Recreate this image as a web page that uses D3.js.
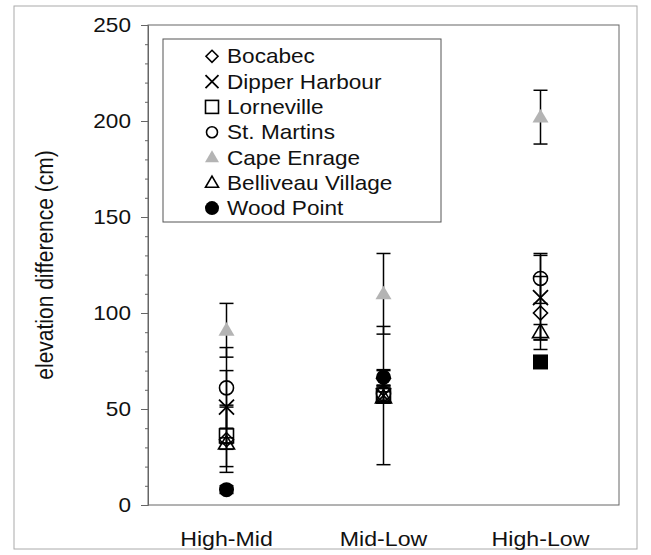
<!DOCTYPE html>
<html>
<head>
<meta charset="utf-8">
<script src="https://cdn.jsdelivr.net/npm/d3@7"></script>
<style>
  body { margin: 0; background: #fff; }
  text { font-family: "Liberation Sans", Arial, sans-serif; fill: #111; }
</style>
</head>
<body>
<div id="chart"></div>
<script>
// categories along the x axis
const categories = ["High-Mid", "Mid-Low", "High-Low"];
const yTicks = [0, 50, 100, 150, 200, 250];

// sites, in legend order
const sites = ["Bocabec", "Dipper Harbour", "Lorneville", "St. Martins", "Cape Enrage", "Belliveau Village", "Wood Point"];
const shapes = ["diamond", "cross", "square", "circle", "triangleGrey", "triangle", "dot"];

// mean elevation difference (cm) per category, and +/- error
const bocabec = [34, 66, 100];
const bocabecErr = [17, 4, 19];
const dipper = [51, 57, 108];
const dipperErr = [19, 36, 22];
const lorneville = [36, 57, null];
const lornevilleErr = [16, 4, null];
const stMartins = [61, 58, 118];
const stMartinsErr = [21, 4, 13];
const capeEnrage = [91, 110, 202];
const capeEnrageErr = [14, 21, 14];
const belliveau = [32, 56, 90];
const belliveauErr = [3, 3, 4];
const woodPoint = [8, 66.5, 74.5];
const woodPointErr = [2, 4, 3];

const means = [bocabec, dipper, lorneville, stMartins, capeEnrage, belliveau, woodPoint];
const errs = [bocabecErr, dipperErr, lornevilleErr, stMartinsErr, capeEnrageErr, belliveauErr, woodPointErr];
// the Wood Point High-Low mark is printed as a filled square in the original
const shapeOverride = { "Wood Point|High-Low": "filledSquare" };

const W = 651, H = 555;
const margin = { top: 25, right: 32, bottom: 50, left: 148 };
const width = W - margin.left - margin.right,
      height = H - margin.top - margin.bottom;
const stretch = 1.13;   // the scanned text is a bit wide

const svg = d3.select("#chart").append("svg")
    .attr("width", W)
    .attr("height", H);

// outer frame of the figure
svg.append("rect")
    .attr("x", 14).attr("y", 6)
    .attr("width", 623).attr("height", 543)
    .attr("fill", "none").attr("stroke", "#aaa").attr("stroke-width", 1);

const g = svg.append("g")
    .attr("transform", "translate(" + margin.left + "," + margin.top + ")");

const x = d3.scalePoint().domain(categories).range([0, width]).padding(0.5);
const y = d3.scaleLinear().domain([0, 250]).range([height, 0]);

// plot box
g.append("rect")
    .attr("width", width).attr("height", height)
    .attr("fill", "none").attr("stroke", "#666").attr("stroke-width", 1);

// y axis, major and minor ticks
const yAxis = g.append("g")
    .call(d3.axisLeft(y).tickValues(d3.range(0, 251, 10)).tickSize(3).tickFormat(""));
yAxis.select(".domain").attr("stroke", "#666");
yAxis.selectAll(".tick line").attr("stroke", "#666")
    .attr("x2", d => d % 50 === 0 ? -7 : -3);

g.selectAll(".ylab")
    .data(yTicks)
    .enter().append("text")
    .attr("class", "ylab")
    .attr("transform", d => "translate(-17," + (y(d) + 7) + ") scale(" + stretch + ",1)")
    .attr("text-anchor", "end")
    .attr("font-size", 20)
    .text(d => d);

// x labels
g.selectAll(".xlab")
    .data(categories)
    .enter().append("text")
    .attr("class", "xlab")
    .attr("transform", d => "translate(" + x(d) + "," + (height + 41) + ") scale(" + stretch + ",1)")
    .attr("text-anchor", "middle")
    .attr("font-size", 20.5)
    .text(d => d);

// y title
svg.append("text")
    .attr("transform", "translate(53," + (margin.top + height / 2) + ") rotate(-90) scale(1,1.1)")
    .attr("text-anchor", "middle")
    .attr("font-size", 21)
    .text("elevation difference (cm)");

// marker drawing
function drawMarker(sel, shape, r) {
  const grey = "#b4b4b4";
  if (shape === "diamond") {
    sel.append("path").attr("d", "M0," + (-r) + "L" + r + ",0L0," + r + "L" + (-r) + ",0Z")
      .attr("fill", "none").attr("stroke", "#000").attr("stroke-width", 1.6);
  } else if (shape === "cross") {
    sel.append("path").attr("d", "M" + (-r) + "," + (-r) + "L" + r + "," + r + "M" + (-r) + "," + r + "L" + r + "," + (-r))
      .attr("stroke", "#000").attr("stroke-width", 1.8);
  } else if (shape === "square") {
    sel.append("rect").attr("x", -r).attr("y", -r).attr("width", 2 * r).attr("height", 2 * r)
      .attr("fill", "none").attr("stroke", "#000").attr("stroke-width", 1.6);
  } else if (shape === "filledSquare") {
    sel.append("rect").attr("x", -r).attr("y", -r).attr("width", 2 * r).attr("height", 2 * r)
      .attr("fill", "#000");
  } else if (shape === "circle") {
    sel.append("circle").attr("r", r)
      .attr("fill", "none").attr("stroke", "#000").attr("stroke-width", 1.6);
  } else if (shape === "dot") {
    sel.append("circle").attr("r", r).attr("fill", "#000");
  } else if (shape === "triangle" || shape === "triangleGrey") {
    const h = r * 1.7;
    const p = "M0," + (-h * 0.6) + "L" + r + "," + (h * 0.4) + "L" + (-r) + "," + (h * 0.4) + "Z";
    if (shape === "triangle")
      sel.append("path").attr("d", p).attr("fill", "none").attr("stroke", "#000").attr("stroke-width", 1.6);
    else
      sel.append("path").attr("d", p).attr("fill", grey);
  }
}

// flatten data into points
const points = [];
sites.forEach(function(s, i) {
  categories.forEach(function(c, j) {
    if (means[i][j] == null) return;
    points.push({ site: s, cat: c, v: means[i][j], e: errs[i][j],
      shape: shapeOverride[s + "|" + c] || shapes[i] });
  });
});

// error bars
const cap = 7;
const eb = g.selectAll(".err").data(points).enter().append("g").attr("class", "err");
eb.append("line")
    .attr("x1", d => x(d.cat)).attr("x2", d => x(d.cat))
    .attr("y1", d => y(d.v + d.e)).attr("y2", d => y(d.v - d.e))
    .attr("stroke", "#000").attr("stroke-width", 1.5);
eb.append("line")
    .attr("x1", d => x(d.cat) - cap).attr("x2", d => x(d.cat) + cap)
    .attr("y1", d => y(d.v + d.e)).attr("y2", d => y(d.v + d.e))
    .attr("stroke", "#000").attr("stroke-width", 1.5);
eb.append("line")
    .attr("x1", d => x(d.cat) - cap).attr("x2", d => x(d.cat) + cap)
    .attr("y1", d => y(d.v - d.e)).attr("y2", d => y(d.v - d.e))
    .attr("stroke", "#000").attr("stroke-width", 1.5);

// markers
g.selectAll(".pt").data(points).enter().append("g")
    .attr("class", "pt")
    .attr("transform", d => "translate(" + x(d.cat) + "," + y(d.v) + ")")
    .each(function(d) {
      const r = d.shape === "cross" ? 7.5 : d.shape === "dot" || d.shape === "filledSquare" ? 7.5 :
        d.shape === "triangle" || d.shape === "triangleGrey" ? 8 : 7;
      drawMarker(d3.select(this), d.shape, r);
    });

// legend
const legend = svg.append("g").attr("transform", "translate(163,39)");
legend.append("rect")
    .attr("width", 278).attr("height", 183)
    .attr("fill", "#fff").attr("stroke", "#555").attr("stroke-width", 1);
const legendSize = [6, 6.5, 6.5, 5.5, 7, 6.5, 7];
sites.forEach(function(s, i) {
  const row = legend.append("g").attr("transform", "translate(49," + (24.3 + i * 25.3) + ")");
  const m = row.append("g").attr("transform", "translate(0,-7)");
  drawMarker(m, shapes[i], legendSize[i]);
  row.append("text")
    .attr("transform", "translate(15,0) scale(" + stretch + ",1)")
    .attr("font-size", 20)
    .text(s);
});
</script>
</body>
</html>
